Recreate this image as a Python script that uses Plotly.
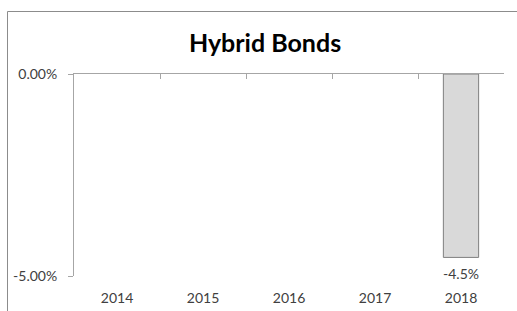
import plotly.graph_objects as go

categories = ["2014", "2015", "2016", "2017", "2018"]
values = [None, None, None, None, -4.54]
labels = ["", "", "", "", "-4.5%"]
y_ticks = [0, -5]
y_ticktext = ["0.00%", "-5.00%"]

W, H = 517, 311
L, R, T, B = 74, 13, 74, 35
pw, ph = W - L - R, H - T - B

def px_x(x):
    return (x - L) / pw

def px_y(y):
    return (H - B - y) / ph

fig = go.Figure()
fig.add_trace(go.Bar(
    x=categories, y=values,
    width=0.41,
    marker=dict(color="#d9d9d9", line=dict(color="#7f7f7f", width=1)),
    showlegend=False, xaxis="x", yaxis="y", hoverinfo="skip",
))
# data labels below the bar end (invisible marker sets the offset)
fig.add_trace(go.Scatter(
    x=categories, y=values, text=labels, mode="markers+text", textposition="bottom center",
    marker=dict(size=16, opacity=0),
    textfont=dict(family="Lato", size=14, color="#404040"),
    cliponaxis=False, showlegend=False, xaxis="x", yaxis="y", hoverinfo="skip",
))
# invisible trace for the top (zero) category axis
fig.add_trace(go.Scatter(x=categories, y=[0]*5, mode="markers", marker=dict(opacity=0),
                         xaxis="x2", yaxis="y", showlegend=False, hoverinfo="skip"))

fig.update_layout(
    width=W, height=H,
    margin=dict(l=L, r=R, t=T, b=B, autoexpand=False),
    paper_bgcolor="white", plot_bgcolor="white",
    font=dict(family="Lato", size=14, color="#404040"),
    title=dict(text="<b>Hybrid Bonds</b>", x=px_x(265), xref="paper", xanchor="center",
               y=1 - 43 / H, yanchor="middle",
               font=dict(family="Lato", size=25, color="#000000")),
    xaxis=dict(type="category", range=[-0.5, 4.5], showline=False, ticks="",
               showgrid=False, zeroline=False, ticklabelstandoff=12, automargin=False,
               tickfont=dict(size=14, color="#404040")),
    xaxis2=dict(type="category", range=[-0.5, 4.5], overlaying="x", side="top",
                anchor="y", showline=True, linecolor="#a6a6a6", linewidth=1,
                ticks="inside", ticklen=5, tickcolor="#a6a6a6", tickson="boundaries",
                showticklabels=False, showgrid=False, zeroline=False, automargin=False),
    yaxis=dict(range=[-5, 0], tickvals=y_ticks, ticktext=y_ticktext,
               showline=True, linecolor="#a6a6a6", linewidth=1,
               ticks="outside", ticklen=5, tickcolor="#a6a6a6", automargin=False,
               showgrid=False, zeroline=False, ticklabelstandoff=8,
               tickfont=dict(size=14, color="#404040")),
    bargap=0.59,
    shapes=[
        dict(type="line", xref="paper", yref="paper",
             x0=px_x(7.5), x1=px_x(7.5), y0=px_y(H + 5), y1=px_y(11.5),
             line=dict(color="#8c8c8c", width=1)),
        dict(type="line", xref="paper", yref="paper",
             x0=px_x(7.5), x1=px_x(W + 5), y0=px_y(11.5), y1=px_y(11.5),
             line=dict(color="#8c8c8c", width=1)),
    ],
)

fig.write_html("out.html", config={"displayModeBar": False, "staticPlot": True},
               post_script="document.body.style.margin='0';document.body.style.overflow='hidden';")
